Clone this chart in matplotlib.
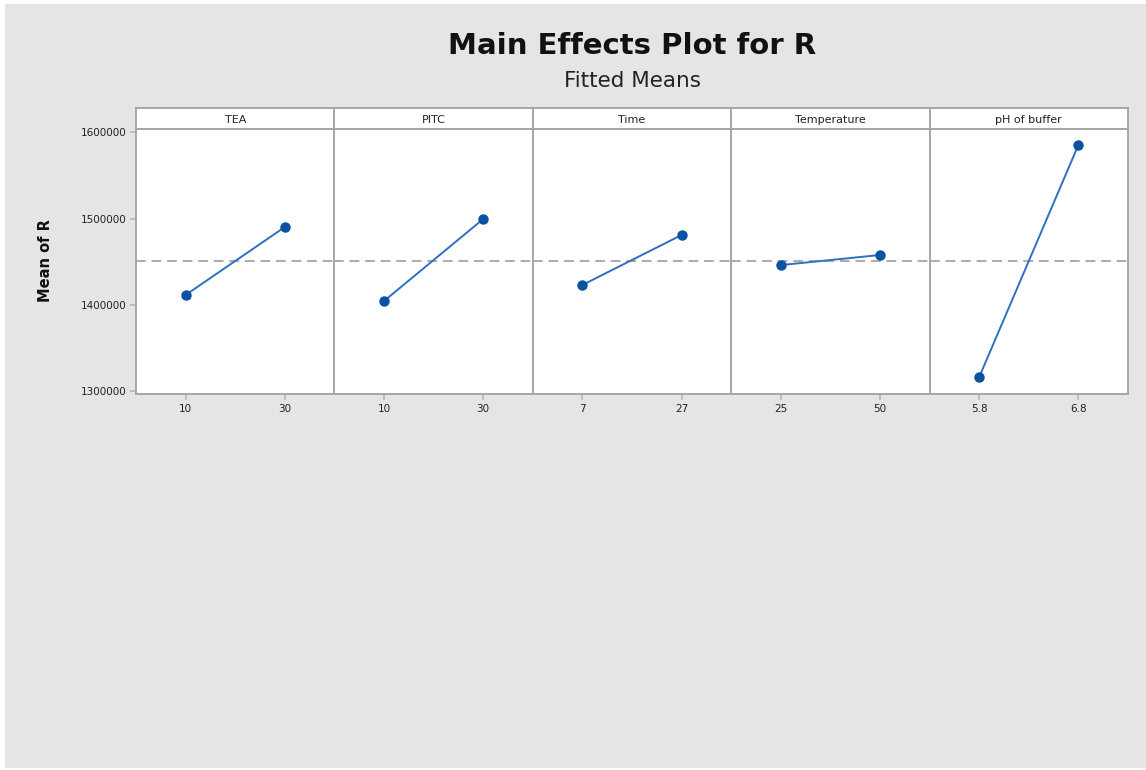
import matplotlib.pyplot as plt
from matplotlib.patches import Rectangle

# fitted means of R at the low / high level of each factor
factors = ['TEA', 'PITC', 'Time', 'Temperature', 'pH of buffer']
levels = [['10', '30'], ['10', '30'], ['7', '27'], ['25', '50'], ['5.8', '6.8']]
low_means = [1411300, 1404300, 1422900, 1446000, 1316100]
high_means = [1490100, 1499400, 1480900, 1457700, 1585300]
grand_mean = 1451000
yticks = [1300000, 1400000, 1500000, 1600000]

W, H = 1146, 770
fig = plt.figure(figsize=(W / 100, H / 100), dpi=100)
fig.patch.set_facecolor('white')
fig.patches.append(Rectangle((5 / W, 2 / H), 1 - 5 / W, 1 - 6 / H,
                             transform=fig.transFigure, facecolor='#e5e5e5',
                             edgecolor='none', zorder=-10))

x0, x1 = 136, 1128
top, bottom, strip_top = 129, 394, 108
pw = (x1 - x0) / len(factors)
edge = '#a6a6a6'
line_col = '#2e6fc0'
dot_col = '#0b52a3'

for i, name in enumerate(factors):
    left = (x0 + i * pw) / W
    ax = fig.add_axes([left, 1 - bottom / H, pw / W, (bottom - top) / H])
    ax.set_facecolor('white')
    ax.axhline(grand_mean, color='#ababab', ls=(0, (5, 3)), lw=1.4, zorder=1)
    ax.plot([0, 1], [low_means[i], high_means[i]], color=line_col, lw=1.4,
            marker='o', ms=6.5, mfc=dot_col, mec=dot_col, zorder=3)
    ax.set_xlim(-0.5, 1.5)
    ax.set_ylim(1296500, 1603800)
    ax.set_xticks([0, 1])
    ax.set_xticklabels(levels[i])
    ax.set_yticks(yticks)
    ax.set_yticklabels([str(t) for t in yticks])
    ax.tick_params(axis='both', length=4, width=1.2, color='#b5b5b5',
                   labelsize=7.5, labelcolor='#222222', pad=3)
    if i > 0:
        ax.tick_params(axis='y', left=False, labelleft=False)
    for sp in ax.spines.values():
        sp.set_color(edge)
        sp.set_linewidth(1.4)

    # factor name strip above each panel
    sax = fig.add_axes([left, 1 - top / H, pw / W, (top - strip_top) / H])
    sax.set_facecolor('white')
    sax.set_xticks([])
    sax.set_yticks([])
    for sp in sax.spines.values():
        sp.set_color(edge)
        sp.set_linewidth(1.4)
    sax.text(0.5, 0.45, name, ha='center', va='center', fontsize=8,
             color='#222222', transform=sax.transAxes)

cx = (x0 + x1) / 2 / W
fig.text(cx, 1 - 46 / H, 'Main Effects Plot for R', ha='center', va='center',
         fontsize=21, fontweight='bold', color='#111111')
fig.text(cx, 1 - 81 / H, 'Fitted Means', ha='center', va='center',
         fontsize=15.5, color='#222222')
fig.text(45 / W, 1 - 261 / H, 'Mean of R', rotation=90, ha='center',
         va='center', fontsize=10.5, fontweight='bold', color='#111111')

fig.savefig('out.png', dpi=100)
